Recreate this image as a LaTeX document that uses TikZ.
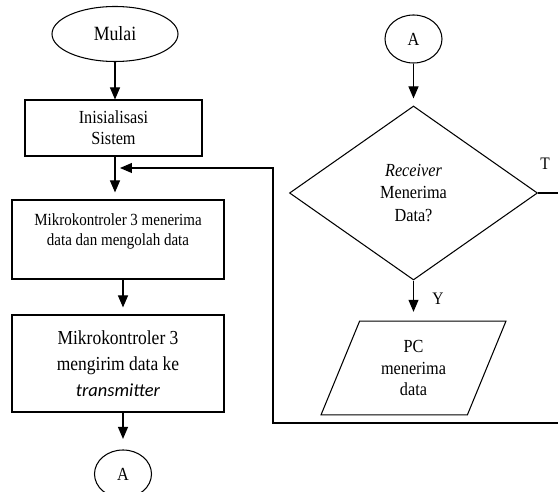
\documentclass[tikz,border=0pt]{standalone}
\usepackage{fontspec}
\setmainfont[FakeStretch=0.88]{Liberation Serif}
\newfontfamily\italicsans{Carlito}
\usetikzlibrary{shapes.geometric, arrows.meta}

\tikzset{
  flowline/.style={semithick},
  flowarrow/.style={semithick, -{Triangle[length=2.4mm, width=2mm]}},
  procbox/.style={draw, semithick, rectangle, align=center, inner sep=0pt},
  terminal/.style={draw, semithick, ellipse, inner sep=0pt},
  connector/.style={draw, semithick, ellipse, inner sep=0pt,
    minimum width=1.14cm, minimum height=0.96cm, font=\fontsize{10.5}{12}\selectfont},
  decision/.style={draw, semithick, diamond, align=center, inner sep=0pt},
  iobox/.style={draw, semithick, trapezium, trapezium left angle=67.6,
    trapezium right angle=112.4, align=center, inner sep=0pt},
  branchlabel/.style={font=\fontsize{10}{12}\selectfont}
}

\begin{document}
\begin{tikzpicture}
  \useasboundingbox (0, 0) rectangle (11.16, 9.84);
  % left column
  \node [terminal, minimum width=2.52cm, minimum height=1.10cm,
    font=\fontsize{11.5}{13}\selectfont] (mulai) at (2.30, 9.16) {Mulai};
  \node [procbox, minimum width=3.54cm, minimum height=1.12cm,
    font=\fontsize{10.5}{12}\selectfont] (init) at (2.27, 7.28) {Inisialisasi\\Sistem};
  \node [procbox, minimum width=4.24cm, minimum height=1.58cm,
    font=\fontsize{9.7}{11.3}\selectfont] (olah) at (2.36, 5.05)
    {Mikrokontroler 3 menerima\\data dan mengolah data\\\mbox{}};
  \node [procbox, minimum width=4.24cm, minimum height=1.94cm,
    font=\fontsize{11.3}{14.7}\selectfont] (kirim) at (2.36, 2.57)
    {Mikrokontroler 3\\mengirim data ke\\{\italicsans\itshape\fontsize{10.5}{14.7}\selectfont transmitter}};
  \node [connector] (abawah) at (2.46, 0.36) {A};
  % right column
  \node [connector] (aatas) at (8.27, 9.06) {A};
  \node [decision, minimum width=4.96cm, minimum height=3.48cm,
    font=\fontsize{10.5}{12.8}\selectfont] (terima) at (8.27, 5.98)
    {\textit{Receiver}\\Menerima\\Data?};
  \node [iobox, minimum width=3.70cm, minimum height=1.80cm,
    font=\fontsize{10.5}{12.5}\selectfont] (pc) at (8.27, 2.48) {PC\\menerima\\data};
  % branch labels
  \node [branchlabel] (tlabel) at (10.90, 6.56) {T};
  \node [branchlabel] (ylabel) at (8.76, 3.86) {Y};
  % loop back points
  \coordinate (tujung) at (11.16, 5.98);
  \coordinate (bujung) at (11.16, 1.38);
  \coordinate (bsudut) at (5.46, 1.38);
  \coordinate (balik) at (2.40, 6.48);
  % connectors
  \draw [flowarrow] (mulai.south) -- (mulai.south |- init.north);
  \draw [flowarrow, shorten >=4pt] (init.south -| mulai) -- (mulai |- olah.north);
  \draw [flowarrow, shorten >=4pt] (olah.south -| abawah) -- (abawah |- kirim.north);
  \draw [flowarrow, shorten >=6pt] (kirim.south -| abawah) -- (abawah.north);
  \draw [flowarrow, shorten >=4pt] (aatas.south) -- (terima.north);
  \draw [flowarrow, shorten >=5pt] (terima.south) -- (terima.south |- pc.north);
  \draw [flowline] (terima.east) -- (tujung);
  \draw [flowarrow] (bujung) -- (bsudut) |- (balik);
\end{tikzpicture}
\end{document}
